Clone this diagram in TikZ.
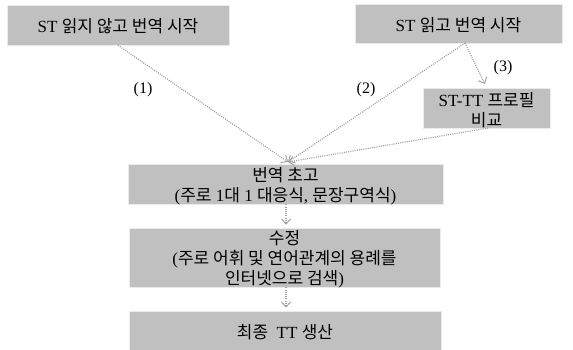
\documentclass[tikz,border=0pt]{standalone}
\usepackage{fontspec}
\setmainfont{Liberation Serif}
\newfontfamily\kr{Noto Sans CJK KR}
\usetikzlibrary{arrows.meta}
\definecolor{boxgray}{RGB}{192,192,192}
\definecolor{linegray}{RGB}{160,160,160}
\tikzset{
  box/.style={fill=boxgray, draw=white!92!black, line width=0.6pt, inner sep=0pt},
  boxtext/.style={inner sep=0pt, align=center, font=\fontsize{17}{20}\selectfont},
  conn/.style={draw=linegray, line width=1.2pt, dash pattern=on 1pt off 1.2pt, -{Straight Barb[length=5pt,width=9pt,line width=1pt]}},
  lbl/.style={font=\fontsize{16}{18}\selectfont}
}
\begin{document}
\begin{tikzpicture}[x=1pt,y=-1pt]
\useasboundingbox (0,0) rectangle (573,350);
\node[box, minimum width=222pt, minimum height=40pt] (b1) at (118,25) {};
\node[boxtext] (t1) at ([yshift=-1.5pt]b1.center) {ST {\kr 읽지 않고 번역 시작}};
\node[box, minimum width=207pt, minimum height=39pt] (b2) at (458.5,23.5) {};
\node[boxtext] (t2) at ([yshift=-1.5pt]b2.center) {ST {\kr 읽고 번역 시작}};
\node[box, minimum width=127pt, minimum height=40pt] (b3) at (486.5,108) {};
\node[boxtext] (t3) at ([yshift=-2pt]b3.center) {ST-TT {\kr 프로필}\\{\kr 비교}};
\node[box, minimum width=315pt, minimum height=40pt] (b4) at (285.5,184) {};
\node[boxtext] (t4) at ([yshift=-2.5pt]b4.center) {{\kr 번역 초고}\\({\kr 주로} 1{\kr 대} 1 {\kr 대응식}, {\kr 문장구역식})};
\node[box, minimum width=311pt, minimum height=59pt] (b5) at (284.5,257.5) {};
\node[boxtext] (t5) at ([yshift=-2pt]b5.center) {{\kr 수정}\\({\kr 주로 어휘 및 연어관계의 용례를}\\{\kr 인터넷으로 검색})};
\node[box, minimum width=312pt, minimum height=39pt] (b6) at (285,330.5) {};
\node[boxtext] (t6) at ([yshift=-1.5pt]b6.center) {{\kr 최종}\ \ TT {\kr 생산}};
\coordinate (m) at (288,162);
\coordinate (s2) at (465,43);
\coordinate (e3) at (485,84);
\coordinate (s3) at (488,128);
\draw[conn] (b1.south) -- (m);
\draw[conn] (s2) -- (m);
\draw[conn] (s2) -- (e3);
\draw[conn] (s3) -- (m);
\draw[conn] (b4.south -| 286,0) -- ([yshift=3pt]b5.north -| 286,0);
\draw[conn] (b5.south -| 286,0) -- ([yshift=3pt]b6.north -| 286,0);
\node[lbl] (l1) at (143,90) {(1)};
\node[lbl] (l2) at (366,90) {(2)};
\node[lbl] (l3) at (503,68) {(3)};
\end{tikzpicture}
\end{document}
